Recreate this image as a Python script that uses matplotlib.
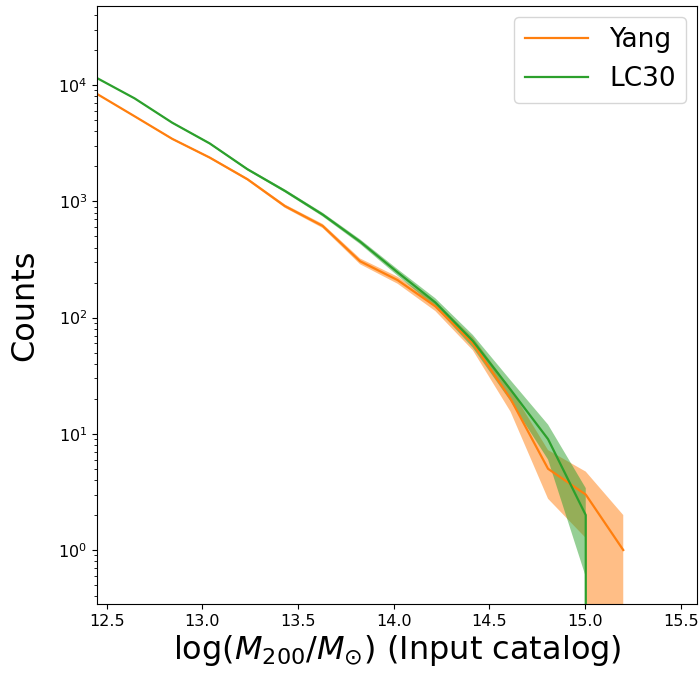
import numpy as np
import matplotlib
matplotlib.use("Agg")
import matplotlib.pyplot as plt

# bin centres of log(M200/Msun)
mass_bins = [12.45, 12.646, 12.843, 13.039, 13.236, 13.432, 13.629, 13.825,
             14.021, 14.218, 14.414, 14.611, 14.807, 15.004, 15.2]

yang_counts = [8400, 5400, 3450, 2380, 1550, 910, 615, 305,
               210, 125, 60, 20, 5, 3, 1]
yang_err = [92, 73, 59, 49, 39, 30, 25, 17.5,
            14.5, 11.2, 7.7, 4.5, 2.24, 1.73, 1.0]

lc30_counts = [11500, 7700, 4750, 3150, 1890, 1230, 770, 450,
               245, 135, 63, 24, 9, 2, 0]
lc30_err = [107, 88, 69, 56, 43, 35, 28, 21,
            15.7, 11.6, 7.9, 4.9, 3.0, 1.41, 0.0]

fig = plt.figure(figsize=(7.0, 6.78), dpi=100)
ax = fig.add_axes([0.1386, 0.1091, 0.857, 0.8821])

x = np.array(mass_bins)
series = [("Yang", yang_counts, yang_err, "#ff7f0e"),
          ("LC30", lc30_counts, lc30_err, "#2ca02c")]
for name, c, e, col in series:
    c = np.array(c, dtype=float)
    e = np.array(e, dtype=float)
    ax.plot(x, c, color=col, lw=1.6, label=name)
    ax.fill_between(x, c - e, c + e, color=col, alpha=0.5, lw=0)

ax.set_yscale("log")
ax.set_xlim(12.45, 15.585)
ax.set_ylim(0.343, 4.8e4)
ax.set_xticks([12.5, 13.0, 13.5, 14.0, 14.5, 15.0, 15.5])
ax.tick_params(labelsize=11.5)
ax.set_ylabel("Counts", fontsize=23, labelpad=13)
ax.set_xlabel(r"$\log(M_{200}/M_{\odot})$ (Input catalog)", fontsize=23, labelpad=3)
ax.legend(loc="upper right", fontsize=19, handlelength=2.4,
          borderaxespad=0.4)

fig.savefig("out.png", dpi=100)
